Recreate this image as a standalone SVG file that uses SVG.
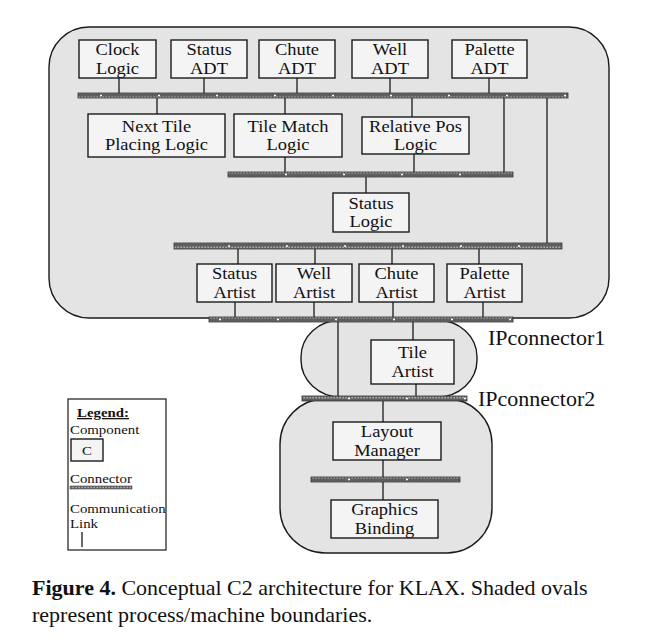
<svg xmlns="http://www.w3.org/2000/svg" width="670" height="644" viewBox="0 0 670 644">
<style>
.region{fill:#e4e4e4;stroke:#1a1a1a;stroke-width:1.4}
.box{fill:#f4f4f4;stroke:#1a1a1a;stroke-width:1.4}
.t{font-family:"Liberation Serif","Times New Roman",serif;font-size:16.5px;fill:#111;text-anchor:middle}
.lbl{font-family:"Liberation Serif","Times New Roman",serif;font-size:22px;fill:#111}
.lg{font-family:"Liberation Serif","Times New Roman",serif;font-size:13.5px;fill:#111}
.cap{font-family:"Liberation Serif","Times New Roman",serif;font-size:22px;fill:#111}
.bus{fill:url(#busfill);stroke:#333;stroke-width:0.8}
.tick{stroke:#fff;stroke-width:1.5;stroke-dasharray:2 56}
.link{stroke:#1a1a1a;stroke-width:1.3;fill:none}
</style>
<defs>
<pattern id="busfill" patternUnits="userSpaceOnUse" width="3" height="5">
<rect width="3" height="5" fill="#5e5e5e"/>
<rect x="0.3" y="1.5" width="1.8" height="2" fill="#aaa"/>
</pattern>
</defs>
<rect width="670" height="644" fill="#fff"/>
<g id="regions">
<rect class="region" x="49" y="27" width="560" height="291" rx="40" ry="40"/>
<rect class="region" x="301" y="320" width="176" height="77" rx="40" ry="37"/>
<rect class="region" x="280" y="399" width="212" height="154" rx="45" ry="45"/>
</g>
<g id="connectors">
<line class="link" x1="119" y1="78" x2="119" y2="93"/>
<line class="link" x1="204" y1="78" x2="204" y2="93"/>
<line class="link" x1="297" y1="78" x2="297" y2="93"/>
<line class="link" x1="390" y1="78" x2="390" y2="93"/>
<line class="link" x1="489" y1="78" x2="489" y2="93"/>
<line class="link" x1="157" y1="98" x2="157" y2="114"/>
<line class="link" x1="285" y1="98" x2="285" y2="114"/>
<line class="link" x1="412" y1="98" x2="412" y2="117"/>
<line class="link" x1="504" y1="98" x2="504" y2="172"/>
<line class="link" x1="547" y1="98" x2="547" y2="243"/>
<line class="link" x1="285" y1="157" x2="285" y2="172"/>
<line class="link" x1="414" y1="154" x2="414" y2="172"/>
<line class="link" x1="366" y1="177" x2="366" y2="193"/>
<line class="link" x1="238" y1="249" x2="238" y2="264"/>
<line class="link" x1="315" y1="249" x2="315" y2="264"/>
<line class="link" x1="392" y1="249" x2="392" y2="264"/>
<line class="link" x1="479" y1="249" x2="479" y2="264"/>
<line class="link" x1="235" y1="302" x2="235" y2="317"/>
<line class="link" x1="314" y1="302" x2="314" y2="317"/>
<line class="link" x1="393" y1="302" x2="393" y2="317"/>
<line class="link" x1="483" y1="302" x2="483" y2="317"/>
<line class="link" x1="338" y1="322" x2="338" y2="396"/>
<line class="link" x1="413" y1="322" x2="413" y2="340"/>
<line class="link" x1="416" y1="384" x2="416" y2="396"/>
<line class="link" x1="383" y1="401" x2="383" y2="422"/>
<line class="link" x1="383" y1="460" x2="383" y2="477"/>
<line class="link" x1="383" y1="482" x2="383" y2="500"/>
<g id="bus1"><rect class="bus" x="78" y="93" width="490" height="5"/><line class="tick" x1="100" y1="95.5" x2="568" y2="95.5"/></g>
<g id="bus2"><rect class="bus" x="228" y="172" width="285" height="5"/><line class="tick" x1="285" y1="174.5" x2="513" y2="174.5"/></g>
<g id="bus3"><rect class="bus" x="174" y="243" width="388" height="6"/><line class="tick" x1="228" y1="246" x2="562" y2="246"/></g>
<g id="bus4"><rect class="bus" x="209" y="317" width="304" height="5"/><line class="tick" x1="219" y1="319.5" x2="513" y2="319.5"/></g>
<g id="bus5"><rect class="bus" x="302" y="396" width="165" height="5"/><line class="tick" x1="348" y1="398.5" x2="467" y2="398.5"/></g>
<g id="bus6"><rect class="bus" x="311" y="477" width="149" height="5"/><line class="tick" x1="348" y1="479.5" x2="460" y2="479.5"/></g>
</g>
<g id="clock-logic"><rect class="box" x="79" y="40" width="77" height="38"/><text class="t" transform="translate(117.5 55.25) scale(1.12 1)">Clock<tspan x="0" dy="18.4">Logic</tspan></text></g>
<g id="status-adt"><rect class="box" x="171" y="40" width="76" height="38"/><text class="t" transform="translate(209 55.25) scale(1.12 1)">Status<tspan x="0" dy="18.4">ADT</tspan></text></g>
<g id="chute-adt"><rect class="box" x="259" y="40" width="76" height="38"/><text class="t" transform="translate(297 55.25) scale(1.12 1)">Chute<tspan x="0" dy="18.4">ADT</tspan></text></g>
<g id="well-adt"><rect class="box" x="352" y="40" width="76" height="38"/><text class="t" transform="translate(390 55.25) scale(1.12 1)">Well<tspan x="0" dy="18.4">ADT</tspan></text></g>
<g id="palette-adt"><rect class="box" x="452" y="40" width="75" height="38"/><text class="t" transform="translate(489.5 55.25) scale(1.12 1)">Palette<tspan x="0" dy="18.4">ADT</tspan></text></g>
<g id="next-tile"><rect class="box" x="88" y="114" width="137" height="43"/><text class="t" transform="translate(156.5 131.75) scale(1.12 1)">Next Tile<tspan x="0" dy="18.4">Placing Logic</tspan></text></g>
<g id="tile-match"><rect class="box" x="234" y="114" width="108" height="43"/><text class="t" transform="translate(288 131.75) scale(1.12 1)">Tile Match<tspan x="0" dy="18.4">Logic</tspan></text></g>
<g id="relative-pos"><rect class="box" x="362" y="117" width="107" height="37"/><text class="t" transform="translate(415.5 131.75) scale(1.12 1)">Relative Pos<tspan x="0" dy="18.4">Logic</tspan></text></g>
<g id="status-logic"><rect class="box" x="333" y="193" width="76" height="39"/><text class="t" transform="translate(371 208.75) scale(1.12 1)">Status<tspan x="0" dy="18.4">Logic</tspan></text></g>
<g id="status-artist"><rect class="box" x="197" y="264" width="75" height="38"/><text class="t" transform="translate(234.5 279.25) scale(1.12 1)">Status<tspan x="0" dy="18.4">Artist</tspan></text></g>
<g id="well-artist"><rect class="box" x="276" y="264" width="76" height="38"/><text class="t" transform="translate(314 279.25) scale(1.12 1)">Well<tspan x="0" dy="18.4">Artist</tspan></text></g>
<g id="chute-artist"><rect class="box" x="359" y="264" width="75" height="38"/><text class="t" transform="translate(396.5 279.25) scale(1.12 1)">Chute<tspan x="0" dy="18.4">Artist</tspan></text></g>
<g id="palette-artist"><rect class="box" x="447" y="264" width="75" height="38"/><text class="t" transform="translate(484.5 279.25) scale(1.12 1)">Palette<tspan x="0" dy="18.4">Artist</tspan></text></g>
<g id="tile-artist"><rect class="box" x="371" y="340" width="83" height="44"/><text class="t" transform="translate(412.5 358.25) scale(1.12 1)">Tile<tspan x="0" dy="18.4">Artist</tspan></text></g>
<g id="layout-manager"><rect class="box" x="333" y="422" width="108" height="38"/><text class="t" transform="translate(387 437.25) scale(1.12 1)">Layout<tspan x="0" dy="18.4">Manager</tspan></text></g>
<g id="graphics-binding"><rect class="box" x="331" y="500" width="107" height="38"/><text class="t" transform="translate(384.5 515.25) scale(1.12 1)">Graphics<tspan x="0" dy="18.4">Binding</tspan></text></g>
<g id="labels">
<text class="lbl" x="488" y="345">IPconnector1</text>
<text class="lbl" x="478" y="406">IPconnector2</text>
</g>
<g id="legend">
<rect x="68" y="399" width="98" height="151" fill="#fff" stroke="#1a1a1a" stroke-width="1.2"/>
<text class="lg" transform="translate(103 417) scale(1.1 1)" text-anchor="middle" font-weight="bold" text-decoration="underline">Legend:</text>
<text class="lg" transform="translate(70 434) scale(1.1 1)">Component</text>
<rect class="box" x="71" y="439" width="32" height="22" stroke-width="1"/>
<text class="lg" transform="translate(87 455) scale(1.1 1)" text-anchor="middle">C</text>
<text class="lg" transform="translate(70 483) scale(1.1 1)">Connector</text>
<rect x="70" y="486" width="62" height="3" fill="url(#busfill)" stroke="#333" stroke-width="0.5"/>
<text class="lg" transform="translate(70 513) scale(1.1 1)">Communication<tspan x="0" dy="15">Link</tspan></text>
<line class="link" x1="82" y1="532" x2="82" y2="547"/>
</g>
<g id="caption">
<text class="cap" x="32" y="595"><tspan font-weight="bold">Figure 4.</tspan> Conceptual C2 architecture for KLAX. Shaded ovals<tspan x="32" dy="27">represent process/machine boundaries.</tspan></text>
</g>
</svg>
